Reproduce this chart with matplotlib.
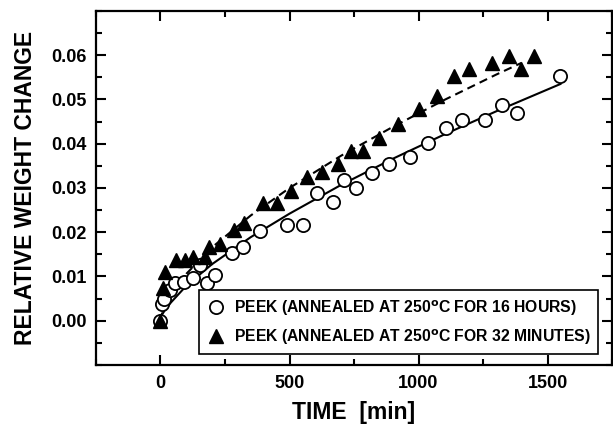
import matplotlib
matplotlib.use("Agg")
import matplotlib.pyplot as plt
from matplotlib.ticker import MultipleLocator

plt.rcParams['font.family'] = ['Liberation Sans', 'DejaVu Sans']
plt.rcParams['font.weight'] = 'bold'
plt.rcParams['mathtext.default'] = 'bf'

# Data: PEEK annealed at 250 C for 16 hours (open circles)
t16 = [0, 4, 15, 38, 58, 90, 127, 154, 180, 212, 277, 320, 386, 490, 552, 605,
       667, 713, 756, 821, 887, 968, 1037, 1106, 1168, 1257, 1322, 1380, 1550]
w16 = [0.0, 0.0038, 0.0050, 0.0070, 0.0085, 0.0088, 0.0097, 0.0126, 0.0085, 0.0103,
       0.0152, 0.0167, 0.0202, 0.0216, 0.0216, 0.0288, 0.0268, 0.0317, 0.0301,
       0.0335, 0.0355, 0.0371, 0.0402, 0.0436, 0.0454, 0.0454, 0.0488, 0.0470, 0.0553]

# Data: PEEK annealed at 250 C for 32 minutes (filled triangles)
t32 = [0, 8, 19, 62, 96, 127, 173, 189, 231, 285, 324, 396, 451, 505, 569, 626,
       688, 740, 783, 848, 921, 1002, 1072, 1137, 1195, 1284, 1349, 1399, 1446]
w32 = [0.0, 0.0074, 0.0110, 0.0137, 0.0137, 0.0144, 0.0144, 0.0166, 0.0173, 0.0204,
       0.0220, 0.0265, 0.0265, 0.0293, 0.0324, 0.0337, 0.0355, 0.0384, 0.0384,
       0.0413, 0.0445, 0.0479, 0.0508, 0.0553, 0.0569, 0.0582, 0.0598, 0.0569, 0.0598]

# Fitted curves
fit16_t = [0, 5, 15, 40, 100, 200, 350, 500, 700, 900, 1100, 1300, 1550]
fit16_w = [0.0, 0.0013, 0.0022, 0.0041, 0.0079, 0.0128, 0.0189, 0.0242, 0.0307,
           0.0366, 0.0421, 0.0473, 0.0535]
fit32_t = [0, 5, 15, 40, 100, 200, 350, 500, 700, 900, 1100, 1300, 1400]
fit32_w = [0.0, 0.0015, 0.0031, 0.0059, 0.0106, 0.0166, 0.0238, 0.0300, 0.0373,
           0.0438, 0.0499, 0.0556, 0.0583]

label16 = r'PEEK (ANNEALED AT 250$^{o}$C FOR 16 HOURS)'
label32 = r'PEEK (ANNEALED AT 250$^{o}$C FOR 32 MINUTES)'

fig = plt.figure(figsize=(6.13, 4.28), dpi=100)
ax = fig.add_axes([0.1566, 0.1472, 0.8418, 0.8271])

ax.plot(fit16_t, fit16_w, color='black', lw=1.5, zorder=2)
ax.plot(fit32_t, fit32_w, color='black', lw=1.5, ls=(0, (4, 2.5)), zorder=2)
ax.plot(t16, w16, ls='none', marker='o', ms=9.5, mfc='white', mec='black', mew=1.3,
        label=label16, zorder=3)
ax.plot(t32, w32, ls='none', marker='^', ms=10.5, mfc='black', mec='black',
        label=label32, zorder=4)

ax.set_xlim(-250, 1750)
ax.set_ylim(-0.01, 0.07)
ax.xaxis.set_minor_locator(MultipleLocator(250))
ax.yaxis.set_minor_locator(MultipleLocator(0.005))
ax.set_xticks([0, 500, 1000, 1500])
ax.set_yticks([0.0, 0.01, 0.02, 0.03, 0.04, 0.05, 0.06])
ax.set_yticklabels(['0.00', '0.01', '0.02', '0.03', '0.04', '0.05', '0.06'])

ax.tick_params(which='both', direction='in', top=True, right=True, width=1.5)
ax.tick_params(which='major', length=7, labelsize=13, pad=7)
ax.tick_params(which='minor', length=4)
for lab in ax.get_xticklabels() + ax.get_yticklabels():
    lab.set_fontweight('bold')
for sp in ax.spines.values():
    sp.set_linewidth(1.6)

ax.set_xlabel('TIME  [min]', fontsize=16.5, fontweight='bold', labelpad=7)
ax.set_ylabel('RELATIVE WEIGHT CHANGE', fontsize=16.5, fontweight='bold', labelpad=10)

leg = ax.legend(loc='lower left', bbox_to_anchor=(0.2, 0.03), borderaxespad=0,
                fancybox=False, edgecolor='black', framealpha=1,
                prop={'size': 11.3, 'weight': 'bold'},
                handletextpad=0.5, borderpad=0.5, labelspacing=0.6, handlelength=1.2)
leg.get_frame().set_linewidth(1.2)

fig.savefig('out.png', dpi=100)
